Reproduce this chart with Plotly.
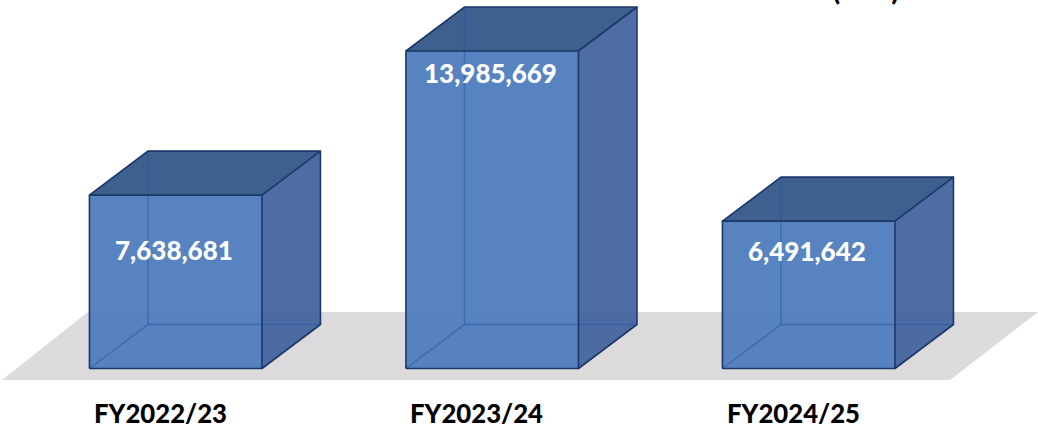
import plotly.graph_objects as go

# --- data ---
categories = ["FY2022/23", "FY2023/24", "FY2024/25"]
values = [7638681, 13985669, 6491642]
value_labels = ["7,638,681", "13,985,669", "6,491,642"]

# --- geometry of the page, in pixels ---
W, H = 1038, 424
BAR_STEP = 316.5
BAR_W = 172.5
FIRST_CENTER = 175.7
BASE_PX = 368.5
PX_PER_UNIT = 317.5 / 13985669
DEPTH_X_PX, DEPTH_Y_PX = 58.5, 44.0
LABEL_DROP = [55, 22, 30]

ux = 1 / BAR_STEP
uy = 1 / PX_PER_UNIT
dx = DEPTH_X_PX * ux
dy = DEPTH_Y_PX * uy
hw = BAR_W * ux / 2

x_range = [-FIRST_CENTER * ux, (W - FIRST_CENTER) * ux]
y_range = [-(H - BASE_PX) * uy, BASE_PX * uy]

FRONT = "rgba(80,126,189,0.96)"
SIDE = "rgba(66,98,158,0.93)"
TOP = "rgb(62,96,142)"
EDGE = "#1b3767"
INNER = "rgba(35,85,165,0.5)"
FLOOR = "#dcdadb"

fig = go.Figure()
xs = list(range(len(values)))

fig.add_trace(go.Bar(
    x=xs, y=values, width=BAR_W * ux,
    marker=dict(color=FRONT, line=dict(width=0)),
    hoverinfo="skip",
))


def poly(px, py, fill=None, line=None, lw=1.6):
    fig.add_trace(go.Scatter(
        x=px, y=py, mode="lines", hoverinfo="skip",
        fill="toself" if fill else "none",
        fillcolor=fill,
        line=dict(color=line or "rgba(0,0,0,0)", width=lw if line else 0),
    ))


for i, v in zip(xs, values):
    l, r = i - hw, i + hw
    # side and top faces
    poly([r, r + dx, r + dx, r, r], [0, dy, v + dy, v, 0], fill=SIDE)
    poly([l, l + dx, r + dx, r, l], [v, v + dy, v + dy, v, v], fill=TOP)
    # hidden edges seen through the box
    poly([l, l + dx, r + dx], [0, dy, dy], line=INNER, lw=1.5)
    poly([l + dx, l + dx], [dy, v + dy], line=INNER, lw=1.5)
    # visible outline
    poly([l, r, r, l, l], [0, 0, v, v, 0], line=EDGE)
    poly([l, l + dx, r + dx, r + dx, r], [v, v + dy, v + dy, dy, 0], line=EDGE)
    poly([r, r + dx], [v, v + dy], line=EDGE)

# floor plane
floor_x = [2, 88, 1038, 950]
floor_y = [380, 312, 312, 380]
floor_path = "M " + " L ".join(
    f"{(px - FIRST_CENTER) * ux},{(BASE_PX - py) * uy}" for px, py in zip(floor_x, floor_y)
) + " Z"
fig.add_shape(type="path", path=floor_path, xref="x", yref="y",
              fillcolor=FLOOR, line=dict(width=0), layer="below")

for i, (v, t, c, drop) in enumerate(zip(values, value_labels, categories, LABEL_DROP)):
    fig.add_annotation(x=i, y=v, xref="x", yref="y", text=t, showarrow=False,
                       yshift=-drop, xshift=-2,
                       font=dict(family="Lato", size=26, color="white", weight=900))
    fig.add_annotation(x=i, y=0, xref="x", yref="y", text=c, showarrow=False,
                       xshift=-15.5, yshift=-44.5,
                       font=dict(family="Lato", size=25.7, color="black", weight=900))

# the chart's title runs off the top of the picture; only its brackets show
fig.add_annotation(x=(866 - FIRST_CENTER) * ux, y=y_range[1], xref="x", yref="y",
                   text="(\u00a0\u00a0\u00a0\u00a0\u00a0\u00a0\u00a0)",
                   showarrow=False, yanchor="middle", yshift=12.5,
                   font=dict(family="Lato", size=30, color="black", weight="bold"))

fig.update_layout(
    width=W, height=H, margin=dict(l=0, r=0, t=0, b=0),
    paper_bgcolor="white", plot_bgcolor="white", showlegend=False,
    xaxis=dict(range=x_range, visible=False, fixedrange=True),
    yaxis=dict(range=y_range, visible=False, fixedrange=True),
)
fig.write_html("out.html", config={"displayModeBar": False},
               post_script="document.body.style.margin='0';")
